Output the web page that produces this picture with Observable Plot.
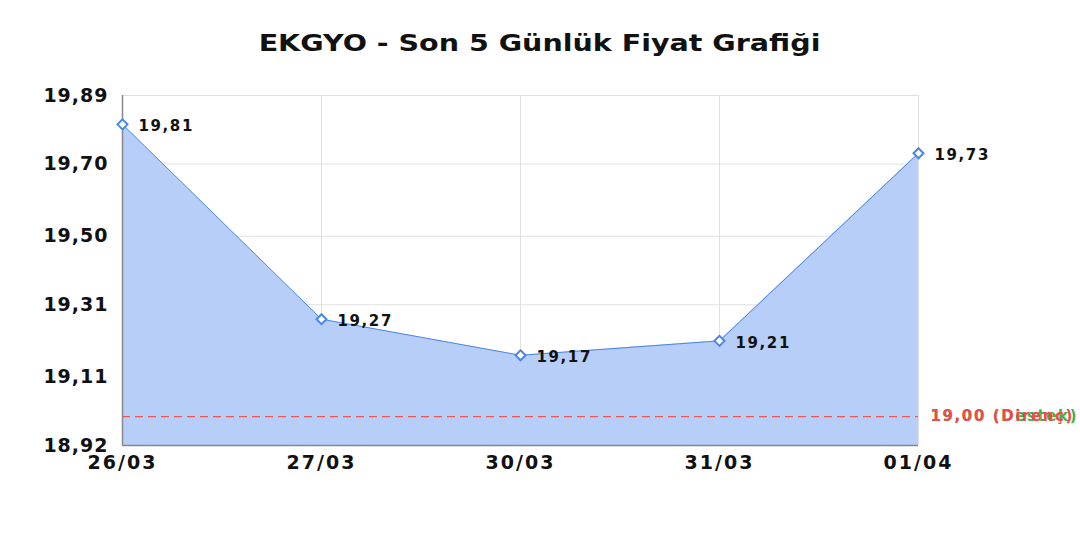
<!DOCTYPE html>
<html><head><meta charset="utf-8">
<script src="https://cdn.jsdelivr.net/npm/d3@7"></script>
<script src="https://cdn.jsdelivr.net/npm/@observablehq/plot@0.6"></script>
<style>
body{margin:0;background:#fff;font-family:"DejaVu Sans",sans-serif;}
#wrap{position:relative;width:1080px;height:540px;}
#title{position:absolute;top:30px;left:0;width:1080px;text-align:center;}
#title span{display:inline-block;font:bold 23px "DejaVu Sans",sans-serif;color:#111;transform:scaleX(1.24);transform-origin:center;}
svg g[aria-label="y-axis tick label"] text{letter-spacing:1px;}
svg g[aria-label="x-axis tick label"] text{letter-spacing:2px;}
svg g[aria-label="text"] text{letter-spacing:1.6px;}
</style></head>
<body><div id="wrap"><div id="title"><span>EKGYO - Son 5 Günlük Fiyat Grafiği</span></div><div id="chart"></div></div>
<script>
const dates = ["26/03","27/03","30/03","31/03","01/04"];
const prices = [19.81, 19.27, 19.17, 19.21, 19.73];
const yTicks = [18.92, 19.11, 19.31, 19.50, 19.70, 19.89];
const levelValue = 19.00;
const levelLabels = ["19,00 (Destek)", "19,00 (Direnç)"];
const levelColors = ["#3cb44b", "#ee4b4b"];

const data = dates.map((d, i) => ({date: d, price: prices[i]}));
const fmt = v => v.toFixed(2).replace(".", ",");
const yMin = yTicks[0];

const chart = Plot.plot({
  width: 1080, height: 540,
  marginTop: 95, marginBottom: 95, marginLeft: 122, marginRight: 162,
  style: {fontFamily: "DejaVu Sans, sans-serif", background: "transparent", overflow: "visible"},
  x: {type: "point", domain: dates, padding: 0, label: null},
  y: {domain: [yTicks[0], yTicks[yTicks.length-1]], label: null},
  marks: [
    Plot.gridY(yTicks, {stroke: "#e0e0e0", strokeOpacity: 1}),
    Plot.gridX(dates, {stroke: "#e0e0e0", strokeOpacity: 1}),
    Plot.areaY(data, {x: "date", y1: yMin, y2: "price", fill: "#b7cff8", fillOpacity: 1}),
    Plot.line(data, {x: "date", y: "price", stroke: "#4a86e8", strokeWidth: 1}),
    Plot.ruleY([levelValue], {stroke: "#ee5555", strokeWidth: 1.3, strokeDasharray: "8,5"}),
    Plot.ruleX([dates[0]], {stroke: "#888", strokeWidth: 1.5}),
    Plot.ruleY([yMin], {stroke: "#888", strokeWidth: 1.5}),
    Plot.dot(data, {x: "date", y: "price", symbol: "diamond2", r: 4.5, stroke: "#4a86e8", strokeWidth: 2, fill: "white"}),
    Plot.text(data, {x: "date", y: "price", text: d => fmt(d.price), dx: 16, dy: 2, textAnchor: "start", fontSize: 15, fontWeight: "bold", fill: "#111"}),
    Plot.text(levelLabels, {x: () => dates[dates.length-1], y: () => levelValue, text: d => d, dx: 12, textAnchor: "start", fontSize: 15, fontWeight: "bold", fill: (d, i) => levelColors[i]}),
    Plot.axisY(yTicks, {tickFormat: fmt, tickSize: 0, tickPadding: 14, fontSize: 19, fontWeight: "bold", fill: "#111"}),
    Plot.axisX(dates, {tickSize: 0, tickPadding: 10, fontSize: 19, fontWeight: "bold", fill: "#111"})
  ]
});
document.getElementById("chart").appendChild(chart);
</script>
</body></html>
